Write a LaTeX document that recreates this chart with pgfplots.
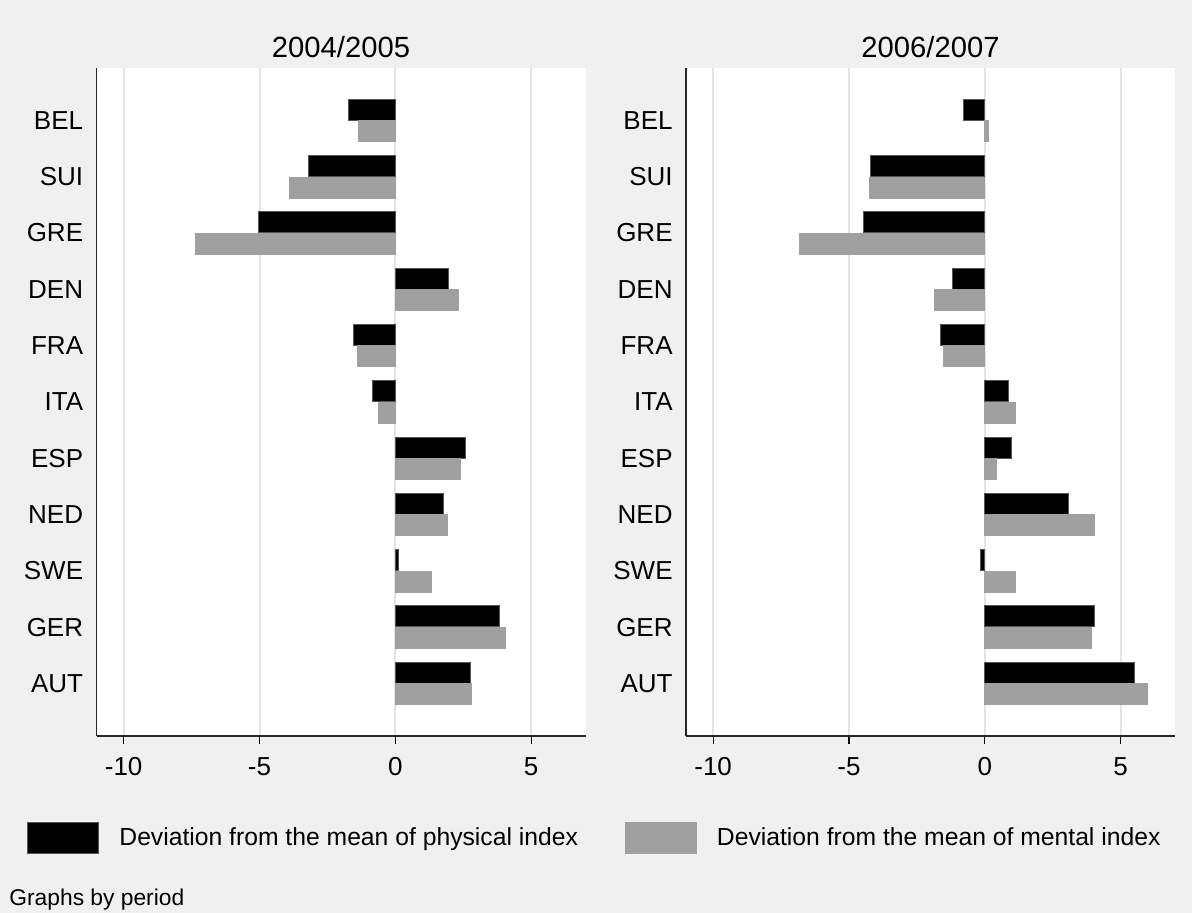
\documentclass[border=0pt]{standalone}
\usepackage{fontspec}
\setmainfont{Liberation Sans}
\usepackage{pgfplots}
\pgfplotsset{compat=1.18}
\usepackage{pgfplotstable}

\definecolor{bggray}{HTML}{F0F0F0}
\definecolor{gridgray}{HTML}{E4E4E4}
\definecolor{mentalgray}{HTML}{A0A0A0}
\definecolor{edgegray}{HTML}{555555}

% idx: 0 = AUT (bottom) ... 10 = BEL (top)
\pgfplotstableread{
idx phys0405 ment0405 phys0607 ment0607
0    2.78  2.79  5.51  5.99
1    3.84  4.05  4.02  3.93
2    0.12  1.34 -0.15  1.14
3    1.76  1.91  3.08  4.03
4    2.60  2.41  0.99  0.44
5   -0.85 -0.63  0.86  1.14
6   -1.54 -1.41 -1.63 -1.51
7    1.94  2.33 -1.20 -1.84
8   -5.02 -7.35 -4.47 -6.83
9   -3.21 -3.88 -4.20 -4.26
10  -1.73 -1.37 -0.80  0.12
}\devtable

\pgfplotsset{
  panel/.style={
    scale only axis, width=244.5pt, height=334pt,
    xmin=-11, xmax=7, ymin=-0.93, ymax=10.93,
    xbar, bar width=10.5pt,
    axis background/.style={fill=white},
    axis x line*=bottom, axis y line*=left,
    axis line style={black!85, line width=0.6pt},
    xmajorgrids, major grid style={gridgray, line width=1pt},
    xtick={-10,-5,0,5}, xticklabels={-10,-5,0,5},
    ytick={0,...,10},
    yticklabels={AUT,GER,SWE,NED,ESP,ITA,FRA,DEN,GRE,SUI,BEL},
    xtick align=outside, major tick length=4pt,
    ytick style={draw=none},
    xtick style={black, line width=0.6pt},
    tick label style={font=\fontsize{13}{15}\selectfont},
    yticklabel style={inner sep=0pt, xshift=-2.5pt},
    xticklabel style={inner sep=0pt, yshift=-6.5pt},
    title style={font=\fontsize{14.6}{17}\selectfont, anchor=center, yshift=4.5pt},
  },
  phys/.style={fill=black, draw=edgegray, line width=0.5pt, bar shift=5.4pt},
  ment/.style={fill=mentalgray, draw=mentalgray, line width=0.5pt, bar shift=-5.4pt},
}

\begin{document}
\begin{tikzpicture}
\path[use as bounding box, fill=bggray] (0,0) rectangle (596pt,-456.5pt);

\begin{axis}[panel, at={(48.25pt,-368pt)}, anchor=south west, title={2004/2005}]
  \addplot[phys] table[x=phys0405, y=idx] {\devtable};
  \addplot[ment] table[x=ment0405, y=idx] {\devtable};
\end{axis}

\begin{axis}[panel, at={(343pt,-368pt)}, anchor=south west, title={2006/2007},
  legend columns=2,
  legend image code/.code={\draw[#1] (0pt,-7.75pt) rectangle (35.5pt,7.75pt);},
  legend style={at={(-1.3476,-0.1527)}, anchor=west, draw=none, fill=none,
    inner sep=0pt, font=\fontsize{12.35}{14}\selectfont,
    /tikz/every even column/.append style={column sep=21.5pt},
    /tikz/every odd column/.append style={column sep=8pt}},
  legend cell align=left]
  \addplot[phys] table[x=phys0607, y=idx] {\devtable};
  \addplot[ment] table[x=ment0607, y=idx] {\devtable};
  \legend{Deviation from the mean of physical index, Deviation from the mean of mental index}
\end{axis}

\node[anchor=west, inner sep=0pt, font=\fontsize{11.4}{13}\selectfont] at (4.5pt,-450pt) {Graphs by period};
\end{tikzpicture}
\end{document}
